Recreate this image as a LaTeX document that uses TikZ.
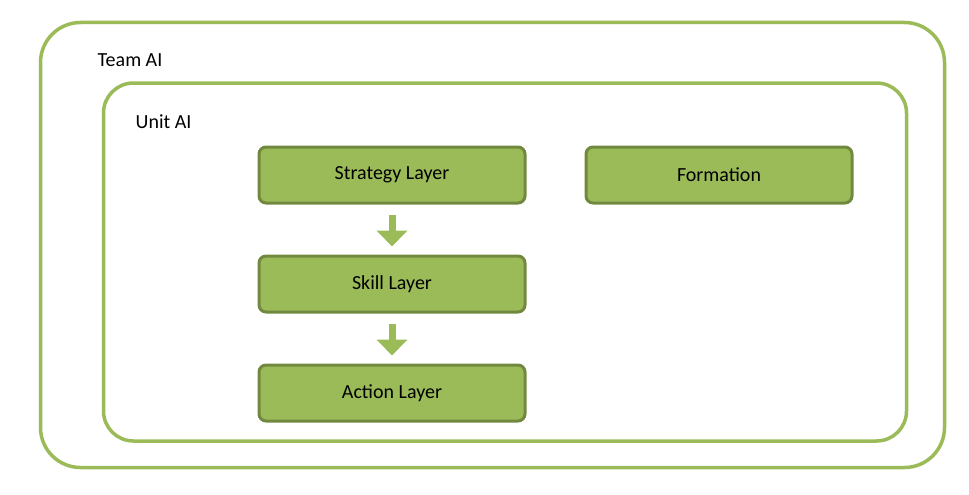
\documentclass[tikz,border=0pt]{standalone}
\usepackage{fontspec}
\setmainfont{Carlito}
\usetikzlibrary{positioning,arrows.meta}
\definecolor{olive}{HTML}{9BBB59}
\definecolor{darkolive}{HTML}{71893F}

\begin{document}
\begin{tikzpicture}[x=1pt,y=-1pt,thick,
    frame/.style={draw=olive,line width=3.5pt,rounded corners=40pt},
    layer/.style={draw=darkolive,fill=olive,line width=3pt,rounded corners=7pt,minimum width=266pt,minimum height=56pt,font=\fontsize{20}{24}\selectfont},
    flow/.style={draw=olive,line width=7pt,-{Triangle[width=30pt,length=16pt]},shorten <=10pt,shorten >=8pt}]
            \useasboundingbox (0,0) rectangle (969,495);
            
            \node[frame,minimum width=904pt,minimum height=445pt] (team) at (492.5,245){};
            \node[frame,minimum width=803pt,minimum height=358pt,rounded corners=30pt] (unit) at (505,262){};
            \node[font=\fontsize{20}{24}\selectfont,anchor=west] (teamlbl) at (94,60){Team AI};
            \node[font=\fontsize{20}{24}\selectfont,anchor=west] (unitlbl) at (132,122){Unit AI};
            
            \node[layer] (strategy) at (392,175){Strategy Layer};
            \node[layer] (formation) at (719,175){Formation};
            \node[layer] (skill) [below=50pt of strategy]{Skill Layer};
            \node[layer] (action) [below=50pt of skill]{Action Layer};
            
            \draw[flow] (strategy) -- (skill);
            \draw[flow] (skill) -- (action);
        \end{tikzpicture}
\end{document}
